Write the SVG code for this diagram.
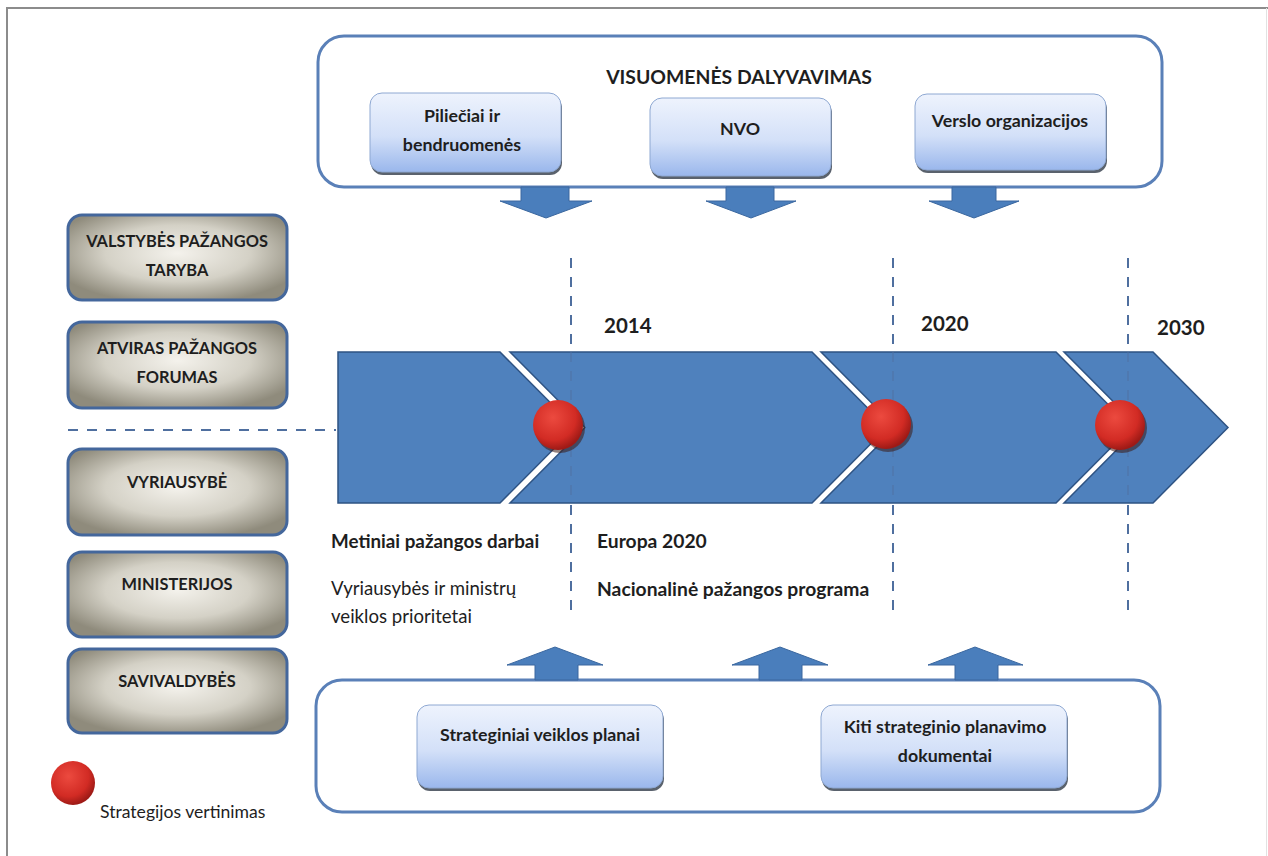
<svg xmlns="http://www.w3.org/2000/svg" width="1268" height="856" viewBox="0 0 1268 856">
  <defs>
    <linearGradient id="blueBox" x1="0" y1="0" x2="0" y2="1">
      <stop offset="0" stop-color="#eef3fd"/>
      <stop offset="0.55" stop-color="#d3e0f8"/>
      <stop offset="1" stop-color="#9ab7ec"/>
    </linearGradient>
    <radialGradient id="grayBox" cx="0.5" cy="0.45" r="0.6">
      <stop offset="0" stop-color="#f4f2ec"/>
      <stop offset="0.55" stop-color="#d4d1c6"/>
      <stop offset="1" stop-color="#8f8b7c"/>
    </radialGradient>
    <radialGradient id="redBall" cx="0.4" cy="0.35" r="0.65">
      <stop offset="0" stop-color="#ec4a3f"/>
      <stop offset="0.7" stop-color="#d22b24"/>
      <stop offset="1" stop-color="#9e1a16"/>
    </radialGradient>
    <style>
      .frame { stroke: #8c8c8c; stroke-width: 2; fill: none; }
      .container { fill: #ffffff; stroke: #5a80b8; stroke-width: 3; }
      .bbox { fill: url(#blueBox); stroke: #8ea8d2; stroke-width: 1; }
      .bshadow { fill: #3d4654; opacity: 0.85; }
      .gbox { fill: url(#grayBox); stroke: #44679c; stroke-width: 3; }
      .chev { fill: #4f81bd; stroke: #2e5383; stroke-width: 1.5; }
      .arrow { fill: #4a7ebc; stroke: #3a679f; stroke-width: 1; }
      .ball { fill: url(#redBall); }
      .ballshadow { fill: #3a1a14; opacity: 0.55; }
      .dash { stroke: #4f6f9f; stroke-width: 2; stroke-dasharray: 10 9; fill: none; }
      .t { font-family: Lato, "Liberation Sans", sans-serif; fill: #1e1e1e; }
      .b { font-weight: bold; }
      .c { text-anchor: middle; }
      .inst { font-size: 16.4px; }
      .lbl { font-size: 17.8px; }
      .yr { font-size: 20.5px; }
    </style>
  </defs>

  <rect x="0" y="0" width="1268" height="856" fill="#ffffff"/>
  <!-- page frame -->
  <path class="frame" d="M7,856 V8 H1268"/>
  <line x1="1266.5" y1="8" x2="1266.5" y2="856" stroke="#e2e2e2" stroke-width="1"/>

  <!-- public participation panel -->
  <g id="participation">
    <rect class="container" x="318" y="36" width="844" height="151" rx="26"/>
    <text class="t b c" x="739" y="84" font-size="19.4">VISUOMENĖS DALYVAVIMAS</text>
  </g>
  <g id="citizens">
    <rect class="bshadow" x="371" y="96" width="191" height="79" rx="12"/>
    <rect class="bbox" x="370" y="93" width="191" height="79" rx="12"/>
    <text class="t b c lbl" x="462" y="122">Piliečiai ir</text>
    <text class="t b c lbl" x="462" y="151">bendruomenės</text>
  </g>
  <g id="ngo">
    <rect class="bshadow" x="651" y="101" width="181" height="78" rx="12"/>
    <rect class="bbox" x="650" y="98" width="181" height="78" rx="12"/>
    <text class="t b c lbl" x="740" y="135">NVO</text>
  </g>
  <g id="business">
    <rect class="bshadow" x="916" y="97" width="191" height="76" rx="12"/>
    <rect class="bbox" x="915" y="94" width="191" height="76" rx="12"/>
    <text class="t b c lbl" x="1010" y="127">Verslo organizacijos</text>
  </g>

  <!-- strategic planning panel -->
  <g id="planning">
    <rect class="container" x="316" y="680" width="844" height="132" rx="26"/>
  </g>
  <g id="operational-plans">
    <rect class="bshadow" x="418" y="708" width="246" height="83" rx="12"/>
    <rect class="bbox" x="417" y="705" width="246" height="83" rx="12"/>
    <text class="t b c lbl" x="540" y="741">Strateginiai veiklos planai</text>
  </g>
  <g id="other-documents">
    <rect class="bshadow" x="822" y="708" width="246" height="83" rx="12"/>
    <rect class="bbox" x="821" y="705" width="246" height="83" rx="12"/>
    <text class="t b c lbl" x="945" y="733">Kiti strateginio planavimo</text>
    <text class="t b c lbl" x="945" y="762">dokumentai</text>
  </g>

  <!-- institutions -->
  <g id="progress-council">
    <rect class="gbox" x="68" y="215" width="219" height="85" rx="14"/>
    <text class="t b c inst" x="177" y="247">VALSTYBĖS PAŽANGOS</text>
    <text class="t b c inst" x="177" y="276">TARYBA</text>
  </g>
  <g id="progress-forum">
    <rect class="gbox" x="68" y="322" width="219" height="86" rx="14"/>
    <text class="t b c inst" x="177" y="354">ATVIRAS PAŽANGOS</text>
    <text class="t b c inst" x="177" y="383">FORUMAS</text>
  </g>
  <g id="government">
    <rect class="gbox" x="68" y="449" width="219" height="86" rx="14"/>
    <text class="t b c inst" x="177" y="488">VYRIAUSYBĖ</text>
  </g>
  <g id="ministries">
    <rect class="gbox" x="68" y="552" width="219" height="85" rx="14"/>
    <text class="t b c inst" x="177" y="590">MINISTERIJOS</text>
  </g>
  <g id="municipalities">
    <rect class="gbox" x="68" y="649" width="219" height="84" rx="14"/>
    <text class="t b c inst" x="177" y="687">SAVIVALDYBĖS</text>
  </g>

  <!-- connectors: dashed guides and block arrows -->
  <g id="connectors">
    <line class="dash" x1="68" y1="430" x2="336" y2="430"/>
    <line class="dash" x1="571" y1="258" x2="571" y2="614"/>
    <line class="dash" x1="893" y1="258" x2="893" y2="614"/>
    <line class="dash" x1="1128" y1="258" x2="1128" y2="614"/>

    <path class="arrow" d="M521,187 H569 V201 H592 L546,218 L500,201 H521 Z"/>
    <path class="arrow" d="M726,187 H774 V201 H796 L751,218 L706,201 H726 Z"/>
    <path class="arrow" d="M952,187 H996 V201 H1019 L974,218 L929,201 H952 Z"/>

    <path class="arrow" d="M535,680 V665 H507 L555,647 L603,665 H578 V680 Z"/>
    <path class="arrow" d="M759,680 V665 H732 L780,647 L828,665 H802 V680 Z"/>
    <path class="arrow" d="M955,680 V665 H928 L975,647 L1023,665 H998 V680 Z"/>
  </g>

  <!-- timeline -->
  <g id="timeline">
    <path class="chev" d="M338,352 H500 L575,427.5 L500,503 H338 Z"/>
    <path class="chev" d="M510,352 H812 L887,427.5 L812,503 H510 L585,427.5 Z"/>
    <path class="chev" d="M821,352 H1056 L1131,427.5 L1056,503 H821 L896,427.5 Z"/>
    <path class="chev" d="M1064,352 H1153 L1228,427.5 L1153,503 H1064 L1139,427.5 Z"/>
    <g opacity="0.45">
      <line class="dash" x1="571" y1="352" x2="571" y2="503"/>
      <line class="dash" x1="893" y1="352" x2="893" y2="503"/>
      <line class="dash" x1="1128" y1="352" x2="1128" y2="503"/>
    </g>
  </g>

  <g id="review-2014">
    <circle class="ballshadow" cx="560" cy="428" r="25"/>
    <circle class="ball" cx="558" cy="425" r="25"/>
  </g>
  <g id="review-2020">
    <circle class="ballshadow" cx="888" cy="427" r="25"/>
    <circle class="ball" cx="886" cy="424" r="25"/>
  </g>
  <g id="review-2030">
    <circle class="ballshadow" cx="1122" cy="428" r="25"/>
    <circle class="ball" cx="1120" cy="425" r="25"/>
  </g>

  <g id="years">
    <text class="t b yr" x="604" y="333">2014</text>
    <text class="t b yr" x="921" y="331">2020</text>
    <text class="t b yr" x="1157" y="335">2030</text>
  </g>

  <g id="period-notes">
    <text class="t b" x="331" y="548" font-size="18.8">Metiniai pažangos darbai</text>
    <text class="t" x="331" y="595" font-size="18.6" fill="#333333">Vyriausybės ir ministrų</text>
    <text class="t" x="331" y="623" font-size="18.6" fill="#333333">veiklos prioritetai</text>
    <text class="t b" x="597" y="548" font-size="19.3">Europa 2020</text>
    <text class="t b" x="597" y="596" font-size="19.3">Nacionalinė pažangos programa</text>
  </g>

  <!-- legend -->
  <g id="legend">
    <circle class="ball" cx="73" cy="783" r="22"/>
    <text class="t" x="100" y="818" font-size="17.6" fill="#333333">Strategijos vertinimas</text>
  </g>
</svg>
